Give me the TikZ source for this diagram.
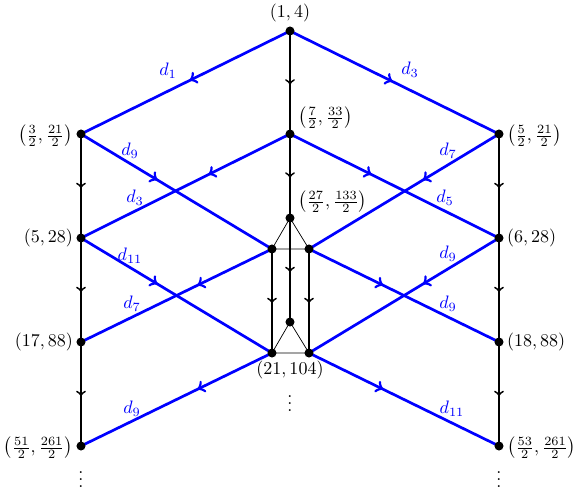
\documentclass[tikz,border=0pt]{standalone}
\usetikzlibrary{decorations.markings}
\begin{document}
\begin{tikzpicture}[x=0.555pt,y=-0.555pt,
  blueline/.style={draw=blue, line width=1.5pt},
  blackline/.style={draw=black, line width=1pt},
  thinline/.style={draw=black, line width=0.4pt},
  mk/.style={postaction={decorate},decoration={markings, mark=at position #1 with {\arrow{>}}}},
  dot/.style={circle, fill=black, inner sep=0pt, minimum size=5pt},
  dlab/.style={text=blue, inner sep=1pt},
  clab/.style={inner sep=1pt}
]
\useasboundingbox (0,0) rectangle (581,493);
% points
\coordinate (T) at (290,31);
\coordinate (C1) at (290,134);
\coordinate (C2) at (290,218);
\coordinate (C3) at (290,322);
\coordinate (A) at (272,249);
\coordinate (B) at (309,249);
\coordinate (D) at (272,353);
\coordinate (E) at (309,353);
\coordinate (L1) at (81,134);
\coordinate (L2) at (81,238);
\coordinate (L3) at (81,342);
\coordinate (L4) at (81,446);
\coordinate (R1) at (499,134);
\coordinate (R2) at (499,238);
\coordinate (R3) at (499,342);
\coordinate (R4) at (499,446);
% thin lines
\draw[thinline] (A) -- (C2) -- (B) -- cycle;
\draw[thinline] (D) -- (C3) -- (E) -- cycle;
% black vertical lines
\draw[blackline, mk=0.52] (T) -- (C1);
\draw[blackline, mk=0.52] (C1) -- (C2);
\draw[blackline, mk=0.52] (C2) -- (C3);
\draw[blackline, mk=0.52] (A) -- (D);
\draw[blackline, mk=0.52] (B) -- (E);
\draw[blackline, mk=0.52] (L1) -- (L2);
\draw[blackline, mk=0.52] (L2) -- (L3);
\draw[blackline, mk=0.52] (L3) -- (L4);
\draw[blackline, mk=0.52] (R1) -- (R2);
\draw[blackline, mk=0.52] (R2) -- (R3);
\draw[blackline, mk=0.52] (R3) -- (R4);
% blue lines
\draw[blueline, mk=0.48] (T) -- (L1);
\draw[blueline, mk=0.49] (T) -- (R1);
\draw[blueline, mk=0.39] (C1) -- (L2);
\draw[blueline, mk=0.39] (C1) -- (R2);
\draw[blueline, mk=0.40] (L1) -- (A);
\draw[blueline, mk=0.40] (R1) -- (B);
\draw[blueline, mk=0.39] (A) -- (L3);
\draw[blueline, mk=0.39] (B) -- (R3);
\draw[blueline, mk=0.40] (L2) -- (D);
\draw[blueline, mk=0.40] (R2) -- (E);
\draw[blueline, mk=0.39] (D) -- (L4);
\draw[blueline, mk=0.39] (E) -- (R4);
% dots
\foreach \p in {T,C1,C2,C3,A,B,D,E,L1,L2,L3,L4,R1,R2,R3,R4}
  \node[dot] (dot\p) at (\p) {};
% coordinate labels
\node[clab] (lT) at (290,13) {$(1,4)$};
\node[clab, anchor=west] (lC1) at (296,118) {$\left(\frac{7}{2}, \frac{33}{2}\right)$};
\node[clab, anchor=west] (lC2) at (296,202) {$\left(\frac{27}{2}, \frac{133}{2}\right)$};
\node[clab] (lDE) at (290,370) {$(21,104)$};
\node[clab, anchor=east] (lL1) at (75,136) {$\left(\frac{3}{2}, \frac{21}{2}\right)$};
\node[clab, anchor=east] (lL2) at (75,238) {$(5,28)$};
\node[clab, anchor=east] (lL3) at (75,342) {$(17,88)$};
\node[clab, anchor=east] (lL4) at (75,448) {$\left(\frac{51}{2}, \frac{261}{2}\right)$};
\node[clab, anchor=west] (lR1) at (505,136) {$\left(\frac{5}{2}, \frac{21}{2}\right)$};
\node[clab, anchor=west] (lR2) at (505,238) {$(6,28)$};
\node[clab, anchor=west] (lR3) at (505,342) {$(18,88)$};
\node[clab, anchor=west] (lR4) at (505,448) {$\left(\frac{53}{2}, \frac{261}{2}\right)$};
\node[clab] (vL) at (81,474) {$\vdots$};
\node[clab] (vR) at (499,474) {$\vdots$};
\node[clab] (vC) at (290,398) {$\vdots$};
% d labels
\node[dlab] (d1) at (168,71) {$d_1$};
\node[dlab] (d3a) at (410,70) {$d_3$};
\node[dlab] (d9a) at (130,151) {$d_9$};
\node[dlab] (d3b) at (135,198) {$d_3$};
\node[dlab] (d11a) at (130,256) {$d_{11}$};
\node[dlab] (d7a) at (132,304) {$d_7$};
\node[dlab] (d9b) at (132,409) {$d_9$};
\node[dlab] (d7b) at (448,151) {$d_7$};
\node[dlab] (d5) at (445,198) {$d_5$};
\node[dlab] (d9c) at (448,254) {$d_9$};
\node[dlab] (d9d) at (448,304) {$d_9$};
\node[dlab] (d11b) at (452,409) {$d_{11}$};
\end{tikzpicture}
\end{document}
